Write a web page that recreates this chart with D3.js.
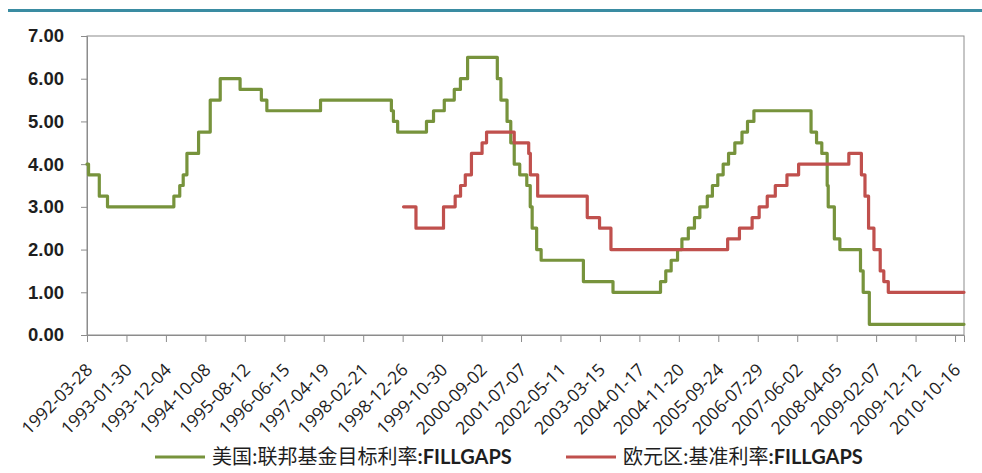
<!DOCTYPE html>
<html>
<head>
<meta charset="utf-8">
<script src="https://cdn.jsdelivr.net/npm/d3@7"></script>
<style>
  body { margin: 0; background: #fff; }
  svg { display: block; }
</style>
</head>
<body>
<svg id="chart" width="982" height="473"></svg>
<script>
// Federal funds target rate (change dates and new levels)
const usDates = [
  "1992-03-28","1992-04-09","1992-07-02","1992-09-04","1994-02-04","1994-03-22",
  "1994-04-18","1994-05-17","1994-08-16","1994-11-15","1995-02-01","1995-07-06",
  "1995-12-19","1996-01-31","1997-03-25","1998-09-29","1998-10-15","1998-11-17",
  "1999-06-30","1999-08-24","1999-11-16","2000-02-02","2000-03-21","2000-05-16",
  "2001-01-03","2001-01-31","2001-03-20","2001-04-18","2001-05-15","2001-06-27",
  "2001-08-21","2001-09-17","2001-10-02","2001-11-06","2001-12-11","2002-11-06",
  "2003-06-25","2004-06-30","2004-08-10","2004-09-21","2004-11-10","2004-12-14",
  "2005-02-02","2005-03-22","2005-05-03","2005-06-30","2005-08-09","2005-09-20",
  "2005-11-01","2005-12-13","2006-01-31","2006-03-28","2006-05-10","2006-06-29",
  "2007-09-18","2007-10-31","2007-12-11","2008-01-22","2008-01-30","2008-03-18",
  "2008-04-30","2008-10-08","2008-10-29","2008-12-16","2010-12-25"
];
const usRates = [
  4.00,3.75,3.25,3.00,3.25,3.50,
  3.75,4.25,4.75,5.50,6.00,5.75,
  5.50,5.25,5.50,5.25,5.00,4.75,
  5.00,5.25,5.50,5.75,6.00,6.50,
  6.00,5.50,5.00,4.50,4.00,3.75,
  3.50,3.00,2.50,2.00,1.75,1.25,
  1.00,1.25,1.50,1.75,2.00,2.25,
  2.50,2.75,3.00,3.25,3.50,3.75,
  4.00,4.25,4.50,4.75,5.00,5.25,
  4.75,4.50,4.25,3.50,3.00,2.25,
  2.00,1.50,1.00,0.25,0.25
];

// Euro area main refinancing rate
const euDates = [
  "1999-01-02","1999-04-09","1999-11-10","2000-02-09","2000-03-22","2000-04-28",
  "2000-06-15","2000-09-06","2000-10-11","2001-05-15","2001-09-05","2001-09-18",
  "2001-11-14","2002-12-06","2003-03-12","2003-06-09","2005-12-06","2006-03-08",
  "2006-06-15","2006-08-09","2006-10-11","2006-12-13","2007-03-14","2007-06-13",
  "2008-07-09","2008-10-15","2008-11-12","2008-12-10","2009-01-21","2009-03-11",
  "2009-04-08","2009-05-13","2010-12-25"
];
const euRates = [
  3.00,2.50,3.00,3.25,3.50,3.75,
  4.25,4.50,4.75,4.50,4.25,3.75,
  3.25,2.75,2.50,2.00,2.25,2.50,
  2.75,3.00,3.25,3.50,3.75,4.00,
  4.25,3.75,3.25,2.50,2.00,1.50,
  1.25,1.00,1.00
];

const xTickLabels = [
  "1992-03-28","1993-01-30","1993-12-04","1994-10-08","1995-08-12","1996-06-15",
  "1997-04-19","1998-02-21","1998-12-26","1999-10-30","2000-09-02","2001-07-07",
  "2002-05-11","2003-03-15","2004-01-17","2004-11-20","2005-09-24","2006-07-29",
  "2007-06-02","2008-04-05","2009-02-07","2009-12-12","2010-10-16"
];
const yTicks = [0, 1, 2, 3, 4, 5, 6, 7];
const seriesNames = ["美国:联邦基金目标利率:FILLGAPS", "欧元区:基准利率:FILLGAPS"];
const seriesColors = ["#77933C", "#C0504D"];

const parse = d3.utcParse("%Y-%m-%d");
const svg = d3.select("#chart");

const plot = { left: 87, right: 964, top: 36, bottom: 335 };

const x = d3.scaleUtc()
  .domain([parse("1992-03-28"), parse("2010-12-25")])
  .range([plot.left, plot.right]);
const y = d3.scaleLinear().domain([0, 7]).range([plot.bottom, plot.top]);

// header rule
svg.append("line")
  .attr("x1", 8).attr("x2", 982).attr("y1", 10.5).attr("y2", 10.5)
  .attr("stroke", "#3A8CA2").attr("stroke-width", 3);

// plot frame
svg.append("rect")
  .attr("x", plot.left).attr("y", plot.top)
  .attr("width", plot.right - plot.left).attr("height", plot.bottom - plot.top)
  .attr("fill", "none").attr("stroke", "#8c8c8c").attr("stroke-width", 1);

// y axis
const yAxis = svg.append("g")
  .attr("transform", `translate(${plot.left},0)`)
  .call(d3.axisLeft(y).tickValues(yTicks).tickFormat(d3.format(".2f")).tickSize(6).tickPadding(17));
yAxis.select(".domain").attr("stroke", "#8c8c8c");
yAxis.selectAll(".tick line").attr("stroke", "#8c8c8c");
yAxis.selectAll(".tick text")
  .attr("font-family", "'Liberation Sans', Arial, sans-serif")
  .attr("font-size", 18.5).attr("font-weight", "bold").attr("fill", "#1e1e1e");

// x axis
const xAxis = svg.append("g")
  .attr("transform", `translate(0,${plot.bottom})`)
  .call(d3.axisBottom(x).tickValues(xTickLabels.map(parse))
    .tickFormat(d3.utcFormat("%Y-%m-%d")).tickSize(7));
xAxis.select(".domain").attr("stroke", "#8c8c8c");
xAxis.selectAll(".tick line").attr("stroke", "#8c8c8c");
xAxis.selectAll(".tick text")
  .attr("font-family", "'Open Sans', sans-serif")
  .attr("font-size", 17.5).attr("fill", "#1e1e1e")
  .attr("text-anchor", "end")
  .attr("dy", null).attr("y", null)
  .attr("transform", "translate(6,36) rotate(-45)");

// series lines
const line = d3.line()
  .x(d => x(d[0])).y(d => y(d[1]))
  .curve(d3.curveStepAfter);

const series = [
  usDates.map((d, i) => [parse(d), usRates[i]]),
  euDates.map((d, i) => [parse(d), euRates[i]])
];
series.forEach((s, i) => {
  svg.append("path")
    .datum(s)
    .attr("d", line)
    .attr("fill", "none")
    .attr("stroke", seriesColors[i])
    .attr("stroke-width", 3.2)
    .attr("stroke-linejoin", "round")
    .attr("stroke-linecap", "round");
});

// legend
const legendItems = [{ x: 155, idx: 0 }, { x: 566, idx: 1 }];
legendItems.forEach(it => {
  const g = svg.append("g").attr("transform", `translate(${it.x},457)`);
  g.append("line").attr("x1", 0).attr("x2", 50).attr("y1", 0).attr("y2", 0)
    .attr("stroke", seriesColors[it.idx]).attr("stroke-width", 3.2);
  const parts = seriesNames[it.idx].split(":FILLGAPS");
  const t = g.append("text").attr("x", 57).attr("y", 7)
    .attr("font-family", "'Noto Sans CJK SC', sans-serif")
    .attr("font-size", 20).attr("fill", "#1e1e1e");
  t.append("tspan").text(parts[0]);
  t.append("tspan").attr("font-family", "Lato, sans-serif").attr("font-weight", "bold")
    .text(":FILLGAPS");
});
</script>
</body>
</html>
